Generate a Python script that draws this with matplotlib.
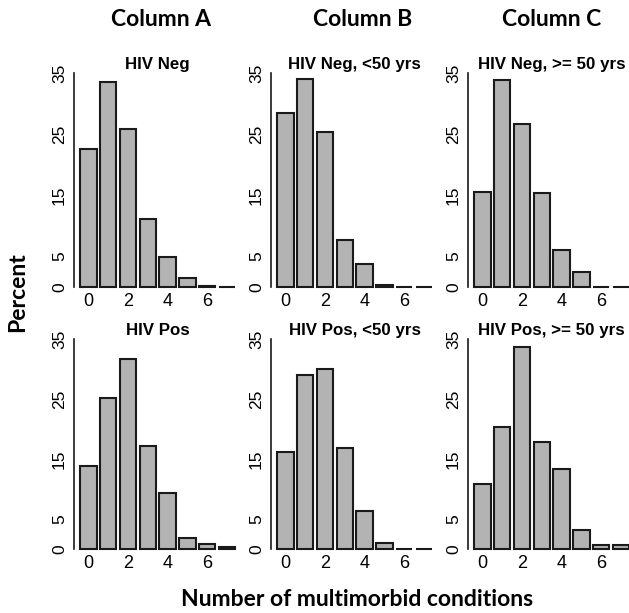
import matplotlib
matplotlib.use("Agg")
import matplotlib.pyplot as plt
from matplotlib import font_manager as fm
import os

# ---- data ----
conditions = [0, 1, 2, 3, 4, 5, 6, 7]
xtick_labels = ["0", "2", "4", "6"]
ytick_values = [0, 5, 15, 25, 35]
column_titles = ["Column A", "Column B", "Column C"]
panel_titles = [
    ["HIV Neg", "HIV Neg, <50 yrs", "HIV Neg, >= 50 yrs"],
    ["HIV Pos", "HIV Pos, <50 yrs", "HIV Pos, >= 50 yrs"],
]
hiv_neg_all = [22.5, 33.6, 25.8, 11.2, 4.9, 1.4, 0.1, 0.0]
hiv_neg_lt50 = [28.4, 34.1, 25.4, 7.7, 3.7, 0.3, 0.0, 0.0]
hiv_neg_ge50 = [15.6, 33.8, 26.7, 15.3, 6.0, 2.5, 0.0, 0.0]
hiv_pos_all = [13.9, 25.2, 31.6, 17.2, 9.4, 1.9, 0.8, 0.3]
hiv_pos_lt50 = [16.2, 29.0, 30.0, 16.8, 6.4, 1.0, 0.0, 0.0]
hiv_pos_ge50 = [10.9, 20.4, 33.6, 17.8, 13.3, 3.1, 0.6, 0.6]
values = [
    [hiv_neg_all, hiv_neg_lt50, hiv_neg_ge50],
    [hiv_pos_all, hiv_pos_lt50, hiv_pos_ge50],
]


def find_font(fname, fallback_family, weight="normal"):
    for p in fm.findSystemFonts():
        if os.path.basename(p) == fname:
            return fm.FontProperties(fname=p)
    return fm.FontProperties(family=fallback_family, weight=weight)


reg = find_font("LiberationSans-Regular.ttf", "Liberation Sans")
bold = find_font("LiberationSans-Bold.ttf", "Liberation Sans", "bold")

W, H = 629, 613
fig = plt.figure(figsize=(W / 100, H / 100), dpi=100)

lefts = [74, 271, 468]
width_px = 167.5
rows = [(73, 287), (339, 549)]  # (px for 35, px for 0)

big_font = "Lato"

for r, (ytop, ybot) in enumerate(rows):
    for c, lx in enumerate(lefts):
        ax = fig.add_axes([lx / W, 1 - ybot / H, width_px / W, (ybot - ytop) / H])
        ax.bar(conditions, values[r][c], width=0.833, color="#b3b3b3",
               edgecolor="#1a1a1a", linewidth=1.5, clip_on=False)
        ax.set_xlim(-0.73, 7.73)
        ax.set_ylim(0, 35)
        for s in ["top", "right", "bottom"]:
            ax.spines[s].set_visible(False)
        ax.spines["left"].set_linewidth(1.2)
        ax.spines["left"].set_color("#1a1a1a")
        ax.set_yticks(ytick_values)
        ax.set_yticklabels([str(v) for v in ytick_values])
        for t in ax.get_yticklabels():
            t.set_fontproperties(reg)
            t.set_fontsize(12.5)
            t.set_rotation(90)
            t.set_va("center")
            t.set_ha("right")
        ax.set_xticks([0, 2, 4, 6])
        ax.set_xticklabels(xtick_labels)
        for t in ax.get_xticklabels():
            t.set_fontproperties(reg)
            t.set_fontsize(13)
        ax.tick_params(axis="y", length=0, pad=5)
        ax.tick_params(axis="x", length=0, pad=4)
        ttl = ax.set_title(panel_titles[r][c], pad=3, fontproperties=bold)
        ttl.set_fontsize(12.2)
        ax.patch.set_visible(False)

col_centers = [161, 363, 552]
for t, cx in zip(column_titles, col_centers):
    fig.text(cx / W, 1 - 19 / H, t, ha="center", va="center", fontsize=16.5,
             fontweight="bold", family=big_font)

fig.text(18 / W, 1 - 292 / H, "Percent", rotation=90, ha="center", va="center",
         fontsize=16.5, fontweight="bold", family=big_font)
fig.text(357 / W, 1 - 600 / H, "Number of multimorbid conditions", ha="center",
         va="center", fontsize=16.5, fontweight="bold", family=big_font)

fig.savefig("out.png", dpi=100)
